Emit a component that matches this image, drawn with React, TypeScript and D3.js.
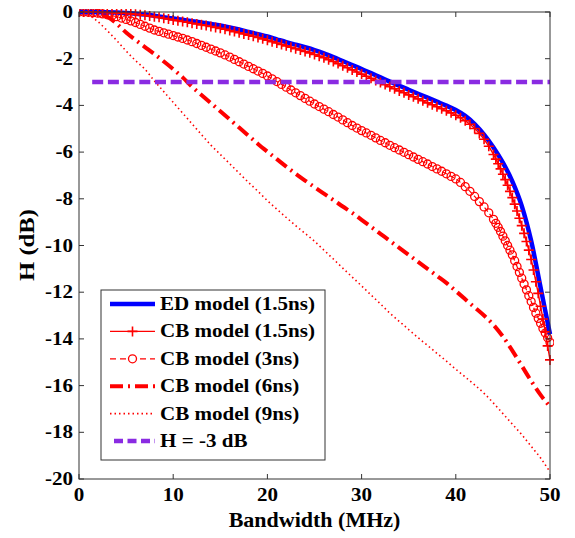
import React from "react";
import * as d3 from "d3";

const FREQ_COARSE = d3.range(0, 51, 1);
const FREQ_FINE = d3.range(0, 44, 0.5).concat(d3.range(44, 50.001, 0.25));

const ED_15 = [0, 0, -0.01, -0.01, -0.02, -0.04, -0.07, -0.11, -0.16, -0.22, -0.28, -0.33, -0.39, -0.45, -0.51, -0.58, -0.66, -0.75, -0.85, -0.95, -1.05, -1.17, -1.29, -1.4, -1.51, -1.63, -1.77, -1.93, -2.1, -2.27, -2.44, -2.62, -2.8, -2.98, -3.16, -3.33, -3.5, -3.67, -3.84, -4.01, -4.2, -4.45, -4.8, -5.25, -5.8, -6.45, -7.25, -8.3, -9.8, -11.8, -13.8];

const CB_15 = [0, 0, 0, -0.01, -0.01, -0.02, -0.02, -0.03, -0.04, -0.05, -0.06, -0.08, -0.1, -0.12, -0.14, -0.17, -0.2, -0.23, -0.27, -0.3, -0.34, -0.37, -0.41, -0.44, -0.48, -0.51, -0.55, -0.58, -0.62, -0.66, -0.7, -0.74, -0.79, -0.84, -0.89, -0.94, -0.99, -1.04, -1.09, -1.15, -1.21, -1.27, -1.33, -1.39, -1.45, -1.51, -1.57, -1.63, -1.69, -1.75, -1.82, -1.89, -1.96, -2.04, -2.12, -2.21, -2.3, -2.39, -2.48, -2.57, -2.66, -2.75, -2.84, -2.93, -3.02, -3.11, -3.2, -3.29, -3.38, -3.46, -3.55, -3.63, -3.72, -3.8, -3.89, -3.97, -4.06, -4.14, -4.23, -4.32, -4.42, -4.53, -4.66, -4.81, -4.99, -5.2, -5.45, -5.75,
  -6.1, -6.3, -6.5, -6.72, -6.95, -7.18, -7.42, -7.68, -7.95, -8.23, -8.52, -8.83, -9.15, -9.48, -9.83, -10.2, -10.6, -11.05, -11.55, -12.05, -12.6, -13.15, -13.7, -14.3, -14.9];

const CB_3 = [0, 0, -0.01, -0.03, -0.05, -0.08, -0.12, -0.16, -0.2, -0.26, -0.32, -0.38, -0.45, -0.53, -0.61, -0.69, -0.77, -0.83, -0.89, -0.95, -1.01, -1.07, -1.13, -1.2, -1.27, -1.35, -1.43, -1.51, -1.59, -1.67, -1.75, -1.84, -1.93, -2.03, -2.13, -2.23, -2.33, -2.43, -2.53, -2.63, -2.74, -2.86, -2.98, -3.1, -3.22, -3.34, -3.46, -3.58, -3.7, -3.82, -3.94, -4.05, -4.16, -4.27, -4.39, -4.5, -4.62, -4.74, -4.86, -4.97, -5.08, -5.18, -5.28, -5.39, -5.5, -5.6, -5.71, -5.81, -5.91, -6.01, -6.11, -6.21, -6.31, -6.41, -6.51, -6.62, -6.72, -6.82, -6.93, -7.04, -7.15, -7.3, -7.48, -7.68, -7.9, -8.12, -8.35, -8.6,
  -8.88, -9.05, -9.22, -9.4, -9.6, -9.8, -10.0, -10.2, -10.4, -10.65, -10.9, -11.15, -11.4, -11.65, -11.9, -12.15, -12.4, -12.65, -12.9, -13.12, -13.33, -13.55, -13.75, -13.95, -14.15];

const CB_6 = [0, -0.01, -0.06, -0.2, -0.5, -0.88, -1.2, -1.5, -1.8, -2.12, -2.45, -2.8, -3.2, -3.55, -3.9, -4.25, -4.6, -4.95, -5.3, -5.65, -5.98, -6.3, -6.62, -6.93, -7.22, -7.5, -7.78, -8.05, -8.33, -8.6, -8.9, -9.2, -9.5, -9.8, -10.1, -10.4, -10.7, -11.0, -11.3, -11.6, -11.95, -12.3, -12.65, -13.0, -13.4, -13.9, -14.5, -15.15, -15.8, -16.4, -16.9];

const CB_9 = [0, -0.12, -0.41, -0.8, -1.22, -1.67, -2.08, -2.45, -2.95, -3.41, -3.87, -4.33, -4.79, -5.25, -5.7, -6.1, -6.5, -6.9, -7.3, -7.68, -8.08, -8.44, -8.8, -9.15, -9.48, -9.82, -10.2, -10.58, -10.97, -11.35, -11.73, -12.12, -12.5, -12.9, -13.25, -13.6, -13.95, -14.28, -14.62, -14.95, -15.3, -15.63, -15.97, -16.33, -16.75, -17.2, -17.65, -18.1, -18.6, -19.1, -19.7];

const THRESHOLD = -3;
const THRESHOLD_X = [1.4, 50];
const X_TICKS = [0, 10, 20, 30, 40, 50];
const Y_TICKS = [0, -2, -4, -6, -8, -10, -12, -14, -16, -18, -20];
const LEGEND_LABELS = ["ED model (1.5ns)", "CB model (1.5ns)", "CB model (3ns)", "CB model (6ns)", "CB model (9ns)", "H = -3 dB"];

const RED = "#ff0000";
const BLUE = "#0000ff";
const PURPLE = "#8a2be2";
const FONT = "'Liberation Serif', 'DejaVu Serif', serif";
const SX = 1.17;

export default function App() {
  const L = 79, R = 550, T = 12, B = 479;
  const x = d3.scaleLinear().domain([0, 50]).range([L, R]);
  const y = d3.scaleLinear().domain([-20, 0]).range([B, T]);

  const mk = (xs: number[], ys: number[]) => xs.map((f, i) => [f, ys[i]] as [number, number]);
  const line = d3.line<[number, number]>().x(d => x(d[0])).y(d => y(d[1])).curve(d3.curveMonotoneX);

  const ed = mk(FREQ_COARSE, ED_15);
  const cb15 = mk(FREQ_FINE, CB_15);
  const cb3 = mk(FREQ_FINE, CB_3);
  const cb6 = mk(FREQ_COARSE, CB_6);
  const cb9 = mk(FREQ_COARSE, CB_9);

  const plusPath = (cx: number, cy: number, s = 5) => `M${cx - s},${cy}H${cx + s}M${cx},${cy - s}V${cy + s}`;

  const legX0 = 110, legX1 = 155, legTextX = 160;
  const legY = (i: number) => 304 + i * 27.4;
  const txt: React.CSSProperties = { fontFamily: FONT, fontWeight: "bold" };

  return (
    <svg width={575} height={538} style={{ position: "absolute", left: 0, top: 0, background: "#fff" }}>
      <defs>
        <clipPath id="plotclip">
          <rect x={L} y={T - 3} width={R - L + 4} height={B - T + 6} />
        </clipPath>
      </defs>
      <rect x={0} y={0} width={575} height={538} fill="#fff" />

      <g clipPath="url(#plotclip)">
        <path d={line(cb9) || ""} fill="none" stroke={RED} strokeWidth={1.6} strokeDasharray="1.5,3" />
        <path d={line(cb6) || ""} fill="none" stroke={RED} strokeWidth={4} strokeDasharray="13,5,2,5" />
        <path d={line(cb3) || ""} fill="none" stroke={RED} strokeWidth={1.2} strokeDasharray="5,3" />
        {cb3.map((d, i) => (
          <circle key={"c" + i} cx={x(d[0])} cy={y(d[1])} r={4} fill="none" stroke={RED} strokeWidth={1.3} />
        ))}
        <path d={line(ed) || ""} fill="none" stroke={BLUE} strokeWidth={4.5} />
        <path d={line(cb15) || ""} fill="none" stroke={RED} strokeWidth={1.4} />
        {cb15.map((d, i) => (
          <path key={"p" + i} d={plusPath(x(d[0]), y(d[1]))} stroke={RED} strokeWidth={1.6} fill="none" />
        ))}
        <line x1={x(THRESHOLD_X[0])} x2={x(THRESHOLD_X[1])} y1={y(THRESHOLD)} y2={y(THRESHOLD)} stroke={PURPLE} strokeWidth={4.5} strokeDasharray="11,4.7" />
      </g>

      {/* frame */}
      <rect x={L} y={T} width={R - L} height={B - T} fill="none" stroke="#333" strokeWidth={1} />
      {X_TICKS.map(t => (
        <g key={"xt" + t}>
          <line x1={x(t)} x2={x(t)} y1={B} y2={B - 5} stroke="#333" />
          <line x1={x(t)} x2={x(t)} y1={T} y2={T + 5} stroke="#333" />
          <text transform={`translate(${x(t)},${B + 22}) scale(${SX},1)`} textAnchor="middle" fontSize={18} style={txt}>{t}</text>
        </g>
      ))}
      {Y_TICKS.map(t => (
        <g key={"yt" + t}>
          <line x1={L} x2={L + 5} y1={y(t)} y2={y(t)} stroke="#333" />
          <line x1={R} x2={R - 5} y1={y(t)} y2={y(t)} stroke="#333" />
          <text transform={`translate(${L - 6},${y(t) + 6}) scale(${SX},1)`} textAnchor="end" fontSize={18} style={txt}>{t}</text>
        </g>
      ))}
      <text transform={`translate(${(L + R) / 2},527)`} textAnchor="middle" fontSize={22} style={txt}>Bandwidth (MHz)</text>
      <text transform={`translate(34,245) rotate(-90) scale(1.12,1)`} textAnchor="middle" fontSize={22} style={txt}>H (dB)</text>

      {/* legend */}
      <rect x={101} y={290} width={224} height={170} fill="#fff" stroke="#333" strokeWidth={1} />
      <line x1={legX0} x2={legX1} y1={legY(0)} y2={legY(0)} stroke={BLUE} strokeWidth={4.5} />
      <line x1={legX0} x2={legX1} y1={legY(1)} y2={legY(1)} stroke={RED} strokeWidth={1.4} />
      <path d={plusPath((legX0 + legX1) / 2, legY(1))} stroke={RED} strokeWidth={1.6} />
      <line x1={legX0} x2={legX1} y1={legY(2)} y2={legY(2)} stroke={RED} strokeWidth={1.2} strokeDasharray="6,4" />
      <circle cx={(legX0 + legX1) / 2} cy={legY(2)} r={4} fill="#fff" stroke={RED} strokeWidth={1.3} />
      <line x1={legX0} x2={legX1} y1={legY(3)} y2={legY(3)} stroke={RED} strokeWidth={4} strokeDasharray="13,5,2,5" />
      <line x1={legX0} x2={legX1} y1={legY(4)} y2={legY(4)} stroke={RED} strokeWidth={1.6} strokeDasharray="1.5,3" />
      <line x1={legX0 + 4} x2={legX1} y1={legY(5)} y2={legY(5)} stroke={PURPLE} strokeWidth={4.5} strokeDasharray="9,4.5" />
      {LEGEND_LABELS.map((s, i) => (
        <text key={"lg" + i} transform={`translate(${legTextX},${legY(i) + 6}) scale(${SX},1)`} fontSize={18} style={txt}>{s}</text>
      ))}
    </svg>
  );
}
